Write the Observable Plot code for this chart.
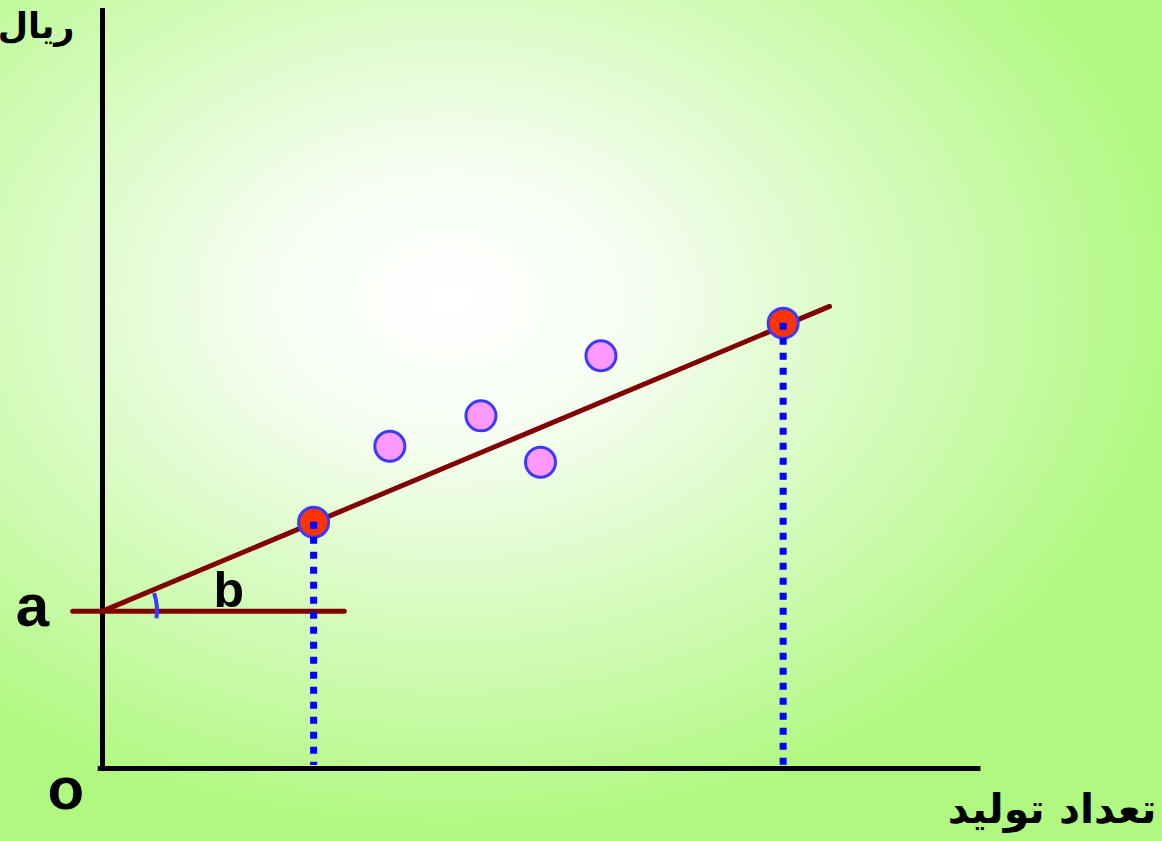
<!DOCTYPE html>
<html>
<head>
<meta charset="utf-8">
<script src="https://cdn.jsdelivr.net/npm/d3@7"></script>
<script src="https://cdn.jsdelivr.net/npm/@observablehq/plot@0.6"></script>
<style>
  html, body { margin: 0; padding: 0; width: 1162px; height: 841px; overflow: hidden; }
  body { background: radial-gradient(ellipse 740px 540px at 450px 300px, #ffffff 0%, #f6fef2 25%, #b0f880 100%); }
  #chart svg { display: block; background: transparent; }
</style>
</head>
<body>
<div id="chart"></div>
<script>
// Fixed-cost intercept (a) and two points on the fitted cost line
const intercept = 20.7;
const lineEnds = [{x: 0, y: 20.7}, {x: 83, y: 60.8}];
const baseLine = [{x: -3.4, y: 20.7}, {x: 27.6, y: 20.7}];
// Observations on the line (red) and off the line (pink)
const onLineX = [24.1, 77.7];
const onLineY = [32.4, 58.6];
const offLineX = [32.8, 43.2, 50.0, 56.9];
const offLineY = [42.4, 46.4, 40.3, 54.3];
// Labels
const labelY = "ریال";
const labelX = "تعداد تولید";
const letterA = "a", letterB = "b", letterO = "o";

const onLine = onLineX.map((x, i) => ({x, y: onLineY[i]}));
const offLine = offLineX.map((x, i) => ({x, y: offLineY[i]}));

const arcMark = (index, scales) => {
  const cx = scales.x(lineEnds[0].x), cy = scales.y(intercept);
  const ang = Math.atan2(scales.y(lineEnds[1].y) - cy, scales.x(lineEnds[1].x) - cx);
  const r = 55;
  const a0 = ang + 0.07, a1 = 8 * Math.PI / 180;
  const p = d3.path();
  p.arc(cx, cy, r, a0, a1, false);
  const el = document.createElementNS("http://www.w3.org/2000/svg", "path");
  el.setAttribute("d", p.toString());
  el.setAttribute("fill", "none");
  el.setAttribute("stroke", "#3a3aff");
  el.setAttribute("stroke-width", "4");
  return el;
};

const chart = Plot.plot({
  width: 1162,
  height: 841,
  margin: 0,
  x: {domain: [0, 100], range: [102, 978], axis: null},
  y: {domain: [0, 100], range: [768, 8], axis: null},
  style: {background: "transparent", overflow: "visible"},
  marks: [
    // axes
    Plot.ruleY([0], {x1: -0.2, x2: 100, stroke: "black", strokeWidth: 5, strokeLinecap: "square", clip: false}),
    Plot.ruleX([0], {y1: -0.4, y2: 100, stroke: "black", strokeWidth: 5, clip: false}),
    // horizontal reference at a
    Plot.line(baseLine, {x: "x", y: "y", stroke: "#800000", strokeWidth: 5}),
    // cost line
    Plot.line(lineEnds, {x: "x", y: "y", stroke: "#800000", strokeWidth: 5}),
    arcMark,
    // points
    Plot.dot(offLine, {x: "x", y: "y", r: 15, fill: "#ff99ff", stroke: "#3a3aff", strokeWidth: 3}),
    Plot.dot(onLine, {x: "x", y: "y", r: 15, fill: "#ff3300", stroke: "#3a3aff", strokeWidth: 3}),
    // dotted drop lines
    Plot.ruleX(onLine, {x: "x", y1: "y", y2: 0.4, stroke: "#0000ff", strokeWidth: 7, strokeDasharray: "7,8"}),
    // texts
    Plot.text([letterA], {x: -8, y: intercept, text: d => d, fontSize: 60, fontWeight: "bold", fontFamily: "Liberation Sans, Arial, sans-serif", fill: "black", dy: -4, clip: false}),
    Plot.text([letterB], {x: 14.4, y: 23.4, text: d => d, fontSize: 50, fontWeight: "bold", fontFamily: "Liberation Sans, Arial, sans-serif", fill: "black"}),
    Plot.text([letterO], {x: -4.2, y: -2.8, text: d => d, fontSize: 60, fontWeight: "bold", fontFamily: "Liberation Sans, Arial, sans-serif", fill: "black"}),
    Plot.text([labelY], {x: -3.2, y: 97.6, text: d => d, textAnchor: "end", fontSize: 35, fontWeight: "bold", fontFamily: "DejaVu Sans, sans-serif", fill: "black"}),
    Plot.text([labelX], {x: 120.3, y: -5.5, text: d => d, textAnchor: "end", fontSize: 41, fontWeight: "bold", fontFamily: "DejaVu Sans, sans-serif", fill: "black"})
  ]
});
document.getElementById("chart").appendChild(chart);
</script>
</body>
</html>
